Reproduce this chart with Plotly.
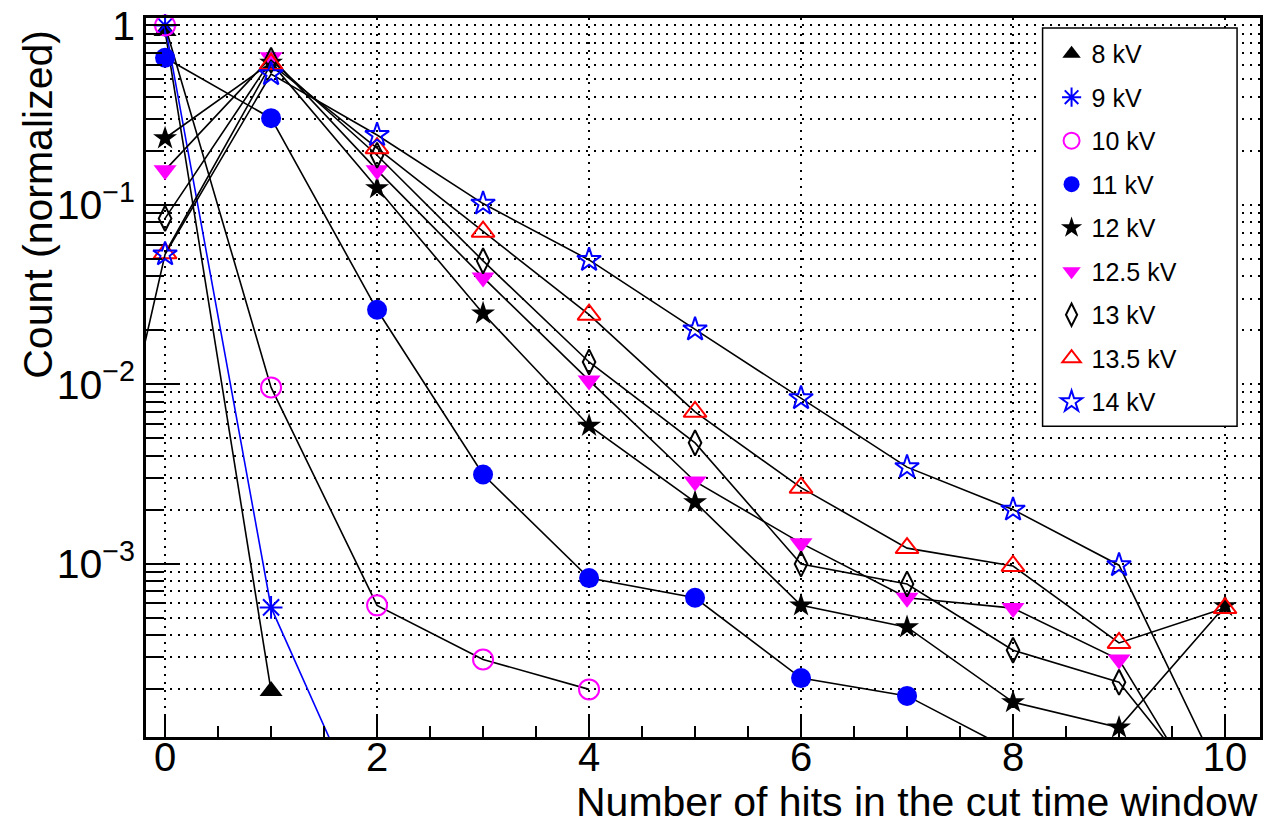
import math
import plotly.graph_objects as go

# ---------------- data ----------------
hits = [-1, 0, 1, 2, 3, 4, 5, 6, 7, 8, 9, 10]

labels = ["8 kV", "9 kV", "10 kV", "11 kV", "12 kV", "12.5 kV", "13 kV", "13.5 kV", "14 kV"]

v8kV = [None, 0.93, 1.95e-4, None, None, None, None, None, None, None, None, None]
v9kV = [None, 1.0, 5.7e-4, 2.7e-5, None, None, None, None, None, None, None, None]
v10kV = [None, 1.0, 9.6e-3, 5.85e-4, 2.92e-4, 1.99e-4, None, None, None, None, None, None]
v11kV = [None, 0.66, 0.304, 0.026, 3.14e-3, 8.3e-4, 6.45e-4, 2.3e-4, 1.83e-4, 9.0e-5, None, None]
v12kV = [None, 0.235, 0.62, 0.124, 0.0248, 5.87e-3, 2.2e-3, 5.85e-4, 4.42e-4, 1.69e-4, 1.22e-4, 5.8e-4]
v12p5kV = [None, 0.156, 0.665, 0.156, 0.0394, 0.0105, 2.87e-3, 1.3e-3, 6.45e-4, 5.65e-4, 2.92e-4, 3.1e-5]
v13kV = [None, 0.084, 0.64, 0.189, 0.0487, 0.0133, 4.71e-3, 9.95e-4, 7.7e-4, 3.29e-4, 2.18e-4, 4.0e-5]
v13p5kV = [None, 0.0537, 0.61, 0.207, 0.0708, 0.0244, 7.02e-3, 2.65e-3, 1.22e-3, 9.7e-4, 3.61e-4, 5.65e-4]
v14kV = [1.35e-4, 0.053, 0.535, 0.245, 0.1016, 0.0493, 0.0202, 8.36e-3, 3.45e-3, 2.0e-3, 9.8e-4, 5.8e-5]

series_values = [v8kV, v9kV, v10kV, v11kV, v12kV, v12p5kV, v13kV, v13p5kV, v14kV]

x_ticks = [0, 2, 4, 6, 8, 10]
y_major = [1e-3, 1e-2, 1e-1, 1]
y_major_text = ["10<sup>\u22123</sup>", "10<sup>\u22122</sup>", "10<sup>\u22121</sup>", "1"]

# ---------------- styles ----------------
BLACK = "#000000"
BLUE = "#0000ff"
MAGENTA = "#ff00ff"
RED = "#ff0000"

styles = [
    dict(symbol="triangle-up", color=BLACK, size=20, open=False, line=BLACK),
    dict(symbol="asterisk-open", color=BLUE, size=19, open=True, line=BLUE),
    dict(symbol="circle-open", color=MAGENTA, size=20, open=True, line=BLACK),
    dict(symbol="circle", color=BLUE, size=20, open=False, line=BLACK),
    dict(symbol="star", color=BLACK, size=18, open=False, line=BLACK),
    dict(symbol="triangle-down", color=MAGENTA, size=20, open=False, line=BLACK),
    dict(symbol="diamond-tall-open", color=BLACK, size=18, open=True, line=BLACK),
    dict(symbol="triangle-up-open", color=RED, size=20, open=True, line=BLACK),
    dict(symbol="star-open", color=BLUE, size=18, open=True, line=BLACK),
]

Y_MIN = 1.08e-4
Y_MAX = 1.10
X_MIN = -0.18
X_MAX = 10.33

FONT = "Liberation Sans, Arial, Helvetica, sans-serif"

fig = go.Figure()

for lab, vals, st in zip(labels, series_values, styles):
    # connecting line (may run out of the frame)
    fig.add_trace(go.Scatter(
        x=hits, y=vals, mode="lines",
        line=dict(color=st["line"], width=1.6),
        showlegend=False, hoverinfo="skip",
    ))
    # markers for the points inside the visible range
    mx = [h for h, v in zip(hits, vals) if v is not None and v >= Y_MIN and h >= X_MIN]
    my = [v for h, v in zip(hits, vals) if v is not None and v >= Y_MIN and h >= X_MIN]
    mk = dict(symbol=st["symbol"], size=st["size"], color=st["color"])
    if st["open"]:
        mk["line"] = dict(color=st["color"], width=2)
    else:
        mk["line"] = dict(width=0)
    fig.add_trace(go.Scatter(
        x=mx, y=my, mode="markers", marker=mk, cliponaxis=False,
        showlegend=False, name=lab,
    ))

# legend entries (markers only, like the reference)
for i, (lab, st) in enumerate(zip(labels, styles)):
    mk = dict(symbol=st["symbol"], size=st["size"], color=st["color"])
    if st["open"]:
        mk["line"] = dict(color=st["color"], width=2)
    else:
        mk["line"] = dict(width=0)
    fig.add_trace(go.Scatter(
        x=[None], y=[None], mode="markers", marker=mk, name=lab,
        legendgroup=f"g{i}", showlegend=True,
    ))

# y minor tick positions (2..9 x decades)
y_minor = []
for e in range(-4, 1):
    for k in range(2, 10):
        v = k * 10 ** e
        if Y_MIN <= v <= Y_MAX:
            y_minor.append(v)

W, H = 1266, 824
ML, MR, MT, MB = 146, 3, 15, 87
PW = W - ML - MR
PH = H - MT - MB

def px_x(px):
    return (px - ML) / PW

def px_y(py):
    return (H - MB - py) / PH

GRIDDASH = "2px,6px"

fig.update_layout(
    width=W, height=H,
    margin=dict(l=ML, r=MR, t=MT, b=MB),
    paper_bgcolor="white", plot_bgcolor="white",
    font=dict(family=FONT, color="black"),
    showlegend=True,
    legend=dict(
        x=px_x(1054), y=px_y(28), xanchor="left", yanchor="top",
        bgcolor="rgba(0,0,0,0)", borderwidth=0,
        font=dict(size=25, family=FONT, color="black"),
        tracegroupgap=8, itemsizing="trace",
    ),
    xaxis=dict(
        range=[X_MIN, X_MAX],
        tickmode="array", tickvals=x_ticks, ticktext=[str(t) for t in x_ticks],
        ticks="inside", ticklen=21, tickwidth=1.5, tickcolor="black",
        tickfont=dict(size=40, family=FONT, color="black"),
        ticklabelstandoff=-17,
        showgrid=True, gridcolor="black", gridwidth=1.5, griddash=GRIDDASH,
        minor=dict(dtick=0.5, tick0=0, ticks="inside", ticklen=11, tickwidth=1.5,
                   tickcolor="black", showgrid=False),
        showline=True, linecolor="black", linewidth=2.5, mirror=True,
        zeroline=False,
    ),
    yaxis=dict(
        type="log",
        range=[math.log10(Y_MIN), math.log10(Y_MAX)],
        tickmode="array", tickvals=y_major, ticktext=y_major_text,
        ticks="inside", ticklen=33, tickwidth=1.5, tickcolor="black",
        tickfont=dict(size=41, family=FONT, color="black"),
        ticklabeloverflow="allow",
        showgrid=True, gridcolor="black", gridwidth=1.5, griddash=GRIDDASH,
        minor=dict(tickmode="array", tickvals=y_minor, ticks="inside", ticklen=16,
                   tickwidth=1.5, tickcolor="black",
                   showgrid=True, gridcolor="black", gridwidth=1.5, griddash=GRIDDASH),
        showline=True, linecolor="black", linewidth=2.5, mirror=True,
        zeroline=False,
    ),
    shapes=[
        dict(type="rect", xref="paper", yref="paper",
             x0=px_x(1045), x1=px_x(1240), y0=px_y(425), y1=px_y(25),
             line=dict(color="black", width=1.5), fillcolor="white", layer="above"),
    ],
    annotations=[
        dict(text="Number of hits in the cut time window", xref="paper", yref="paper",
             x=1.0, y=px_y(802), xanchor="right", yanchor="middle", showarrow=False,
             font=dict(size=41, family=FONT, color="black")),
        dict(text="Count (normalized)", xref="paper", yref="paper",
             x=px_x(38), y=px_y(25), xanchor="center", yanchor="top", textangle=-90,
             showarrow=False, font=dict(size=41, family=FONT, color="black")),
    ],
)

fig.write_html("out.html")
